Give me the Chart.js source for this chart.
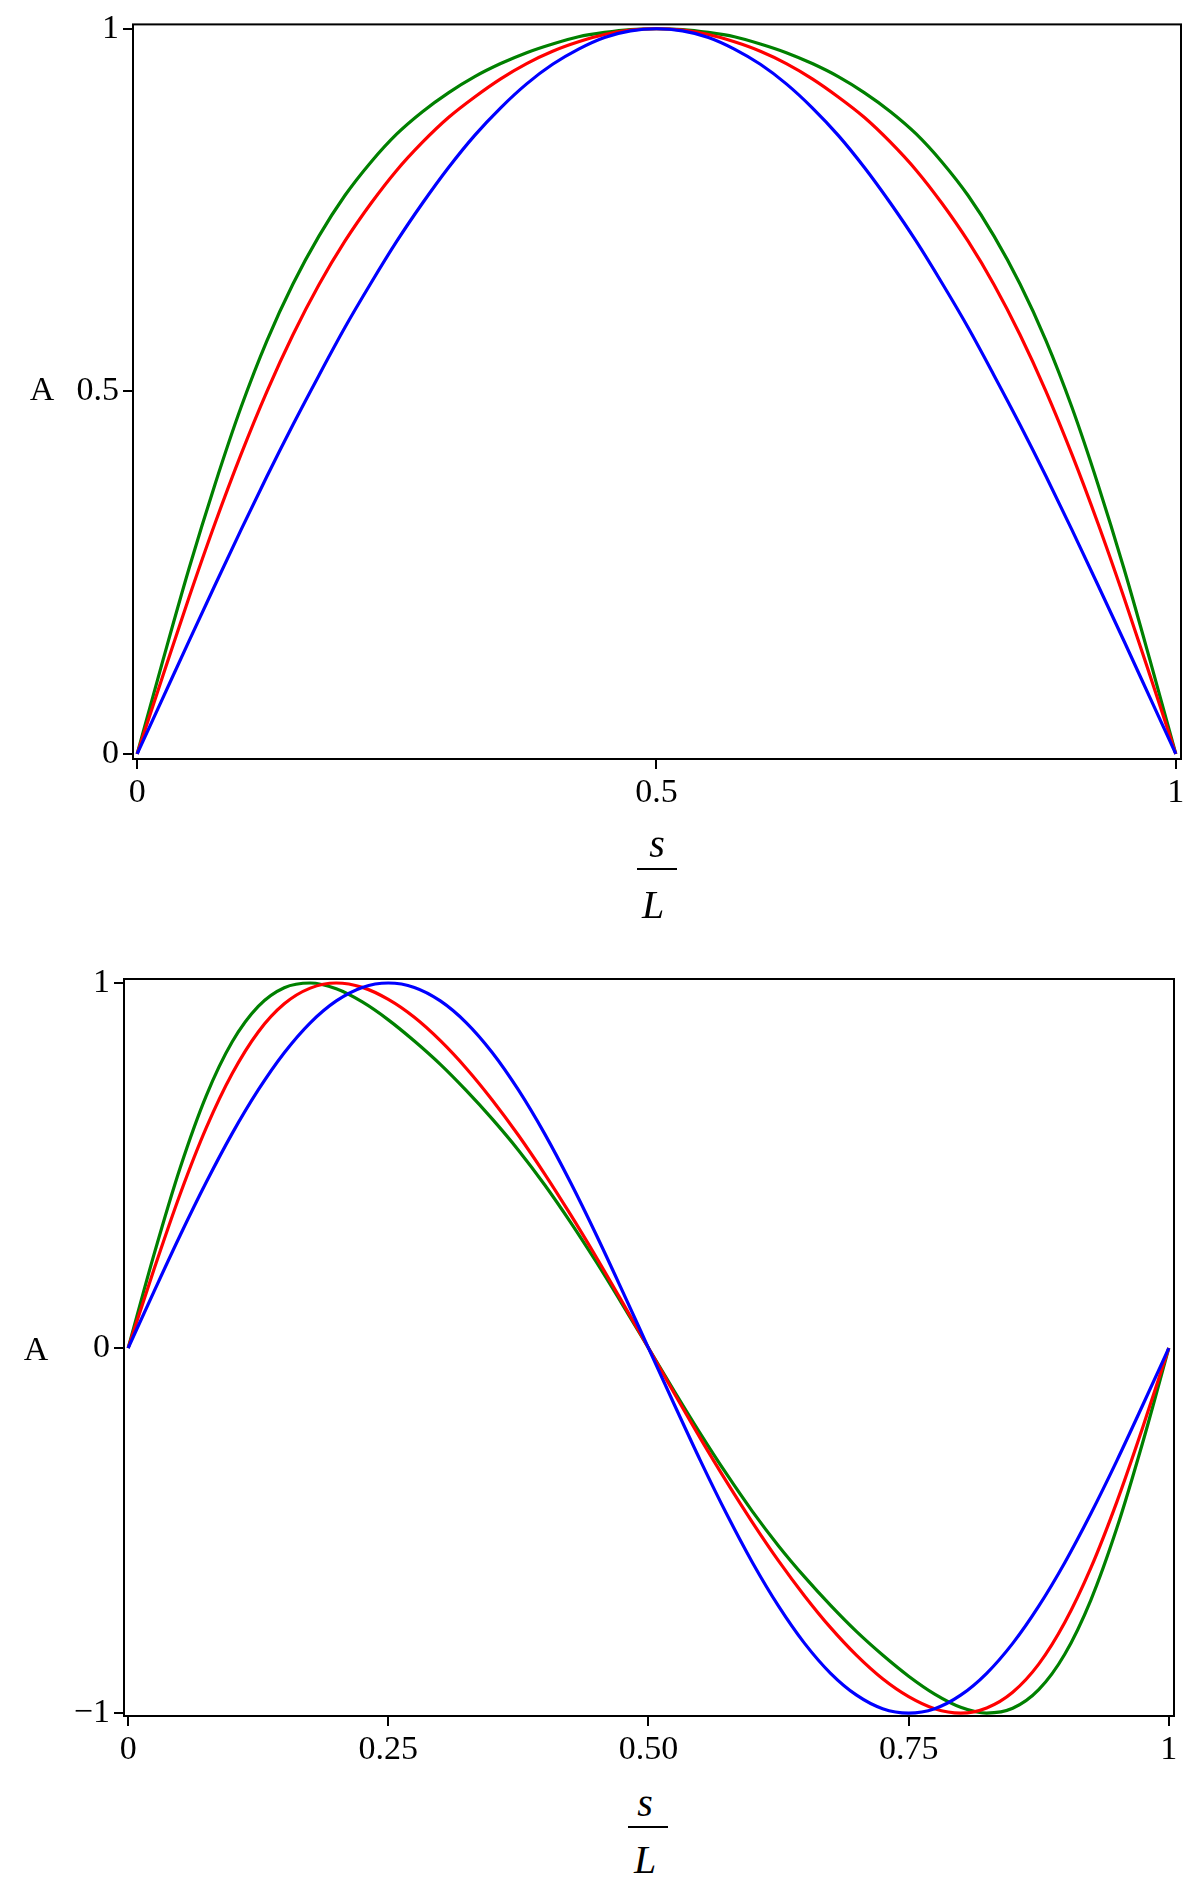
<!DOCTYPE html>
<html>
<head>
<meta charset="utf-8">
<script src="https://cdn.jsdelivr.net/npm/chart.js@4.4.0/dist/chart.umd.min.js"></script>
<style>
  body { margin: 0; background: #fff; width: 1200px; height: 1883px; position: relative; overflow: hidden; font-family: 'Liberation Serif', serif; }
  canvas { position: absolute; left: 0; }
  .lbl { position: absolute; transform: translate(-50%, -50%); font-size: 34px; line-height: 1; color: #000; white-space: nowrap; }
  .it { font-style: italic; font-size: 40px; }
  .bar { position: absolute; height: 2px; background: #000; }
</style>
</head>
<body>
<canvas id="topChart" width="1200" height="830" style="top:0"></canvas>
<canvas id="bottomChart" width="1200" height="830" style="top:940px"></canvas>

<div class="lbl" style="left:42px; top:389px">A</div>
<div class="lbl it" style="left:657px; top:844px">s</div>
<div class="bar" style="left:637px; top:868px; width:40px"></div>
<div class="lbl it" style="left:653px; top:905px">L</div>

<div class="lbl" style="left:36px; top:1349px">A</div>
<div class="lbl it" style="left:645px; top:1803px">s</div>
<div class="bar" style="left:628px; top:1826px; width:40px"></div>
<div class="lbl it" style="left:645px; top:1860px">L</div>

<script>
// s/L positions
const sL = [0, 0.025, 0.05, 0.075, 0.1, 0.125, 0.15, 0.175, 0.2, 0.225, 0.25, 0.275, 0.3, 0.325, 0.35, 0.375, 0.4, 0.425, 0.45, 0.475, 0.5,
            0.525, 0.55, 0.575, 0.6, 0.625, 0.65, 0.675, 0.7, 0.725, 0.75, 0.775, 0.8, 0.825, 0.85, 0.875, 0.9, 0.925, 0.95, 0.975, 1];

// first mode (top plot)
const topBlue = [0, 0.078, 0.156, 0.233, 0.309, 0.383, 0.454, 0.522, 0.588, 0.649, 0.707, 0.760, 0.809, 0.853, 0.891, 0.924, 0.951, 0.972, 0.988, 0.997, 1,
                 0.997, 0.988, 0.972, 0.951, 0.924, 0.891, 0.853, 0.809, 0.760, 0.707, 0.649, 0.588, 0.522, 0.454, 0.383, 0.309, 0.233, 0.156, 0.078, 0];
const topRed = [0, 0.109, 0.216, 0.318, 0.413, 0.500, 0.578, 0.647, 0.707, 0.759, 0.805, 0.844, 0.878, 0.906, 0.931, 0.952, 0.969, 0.982, 0.992, 0.998, 1,
                0.998, 0.992, 0.982, 0.969, 0.952, 0.931, 0.906, 0.878, 0.844, 0.805, 0.759, 0.707, 0.647, 0.578, 0.500, 0.413, 0.318, 0.216, 0.109, 0];
const topGreen = [0, 0.130, 0.256, 0.372, 0.478, 0.570, 0.648, 0.714, 0.770, 0.816, 0.855, 0.886, 0.912, 0.934, 0.952, 0.967, 0.979, 0.989, 0.995, 0.999, 1,
                  0.999, 0.995, 0.989, 0.979, 0.967, 0.952, 0.934, 0.912, 0.886, 0.855, 0.816, 0.770, 0.714, 0.648, 0.570, 0.478, 0.372, 0.256, 0.130, 0];

// second mode (bottom plot)
const botBlue = [0, 0.156, 0.309, 0.454, 0.588, 0.707, 0.809, 0.891, 0.951, 0.988, 1, 0.988, 0.951, 0.891, 0.809, 0.707, 0.588, 0.454, 0.309, 0.156, 0,
                 -0.156, -0.309, -0.454, -0.588, -0.707, -0.809, -0.891, -0.951, -0.988, -1, -0.988, -0.951, -0.891, -0.809, -0.707, -0.588, -0.454, -0.309, -0.156, 0];
const botRed = [0, 0.217, 0.422, 0.603, 0.752, 0.866, 0.943, 0.986, 1, 0.988, 0.955, 0.906, 0.842, 0.766, 0.679, 0.583, 0.478, 0.366, 0.248, 0.125, 0,
                -0.125, -0.248, -0.366, -0.478, -0.583, -0.679, -0.766, -0.842, -0.906, -0.955, -0.988, -1, -0.986, -0.943, -0.866, -0.752, -0.603, -0.422, -0.217, 0];
const botGreen = [0, 0.258, 0.494, 0.691, 0.839, 0.936, 0.987, 1, 0.984, 0.948, 0.899, 0.841, 0.777, 0.705, 0.627, 0.542, 0.448, 0.345, 0.235, 0.119, 0,
                  -0.119, -0.235, -0.345, -0.448, -0.542, -0.627, -0.705, -0.777, -0.841, -0.899, -0.948, -0.984, -1, -0.987, -0.936, -0.839, -0.691, -0.494, -0.258, 0];

// tick values and labels
const topXTicks = [0, 0.5, 1];
const topXLabels = ['0', '0.5', '1'];
const topYTicks = [0, 0.5, 1];
const topYLabels = ['0', '0.5', '1'];
const botXTicks = [0, 0.25, 0.5, 0.75, 1];
const botXLabels = ['0', '0.25', '0.50', '0.75', '1'];
const botYTicks = [-1, 0, 1];
const botYLabels = ['\u22121', '0', '1'];

const frameBox = {
    id: 'frameBox',
    afterDraw(chart) {
        const a = chart.chartArea;
        const ctx = chart.ctx;
        ctx.save();
        ctx.strokeStyle = '#000';
        ctx.lineWidth = 2;
        ctx.strokeRect(a.left, a.top, a.right - a.left, a.bottom - a.top);
        ctx.restore();
    }
};

function series(ys, color) {
    return {
        data: sL.map((x, i) => ({ x: x, y: ys[i] })),
        borderColor: color,
        borderWidth: 3.2,
        pointRadius: 0,
        fill: false,
        cubicInterpolationMode: 'monotone'
    };
}

function axis(ticks, labels, min, max, size, horizontal) {
    return {
        type: 'linear',
        min: min,
        max: max,
        afterBuildTicks: s => { s.ticks = ticks.map(v => ({ value: v })); },
        afterFit: s => { if (horizontal) s.height = size; else s.width = size; },
        ticks: {
            autoSkip: false,
            maxRotation: 0,
            padding: 4,
            color: '#000',
            font: { family: "'Liberation Serif', serif", size: 34 },
            callback: (v, i) => labels[i]
        },
        grid: { display: true, drawOnChartArea: false, drawTicks: true, tickLength: 10, color: '#000', lineWidth: 2 },
        border: { display: false }
    };
}

function makeChart(id, ys, xt, xl, yt, yl, xr, yr, yAxisWidth, xAxisHeight, pad) {
    new Chart(document.getElementById(id), {
        type: 'line',
        data: { datasets: [series(ys[0], '#0000ff'), series(ys[1], '#ff0000'), series(ys[2], '#008000')] },
        options: {
            responsive: false,
            animation: false,
            layout: { padding: pad },
            plugins: { legend: { display: false }, tooltip: { enabled: false } },
            scales: {
                x: axis(xt, xl, xr[0], xr[1], xAxisHeight, true),
                y: axis(yt, yl, yr[0], yr[1], yAxisWidth, false)
            }
        },
        plugins: [frameBox]
    });
}

makeChart('topChart', [topBlue, topRed, topGreen], topXTicks, topXLabels, topYTicks, topYLabels,
    [-0.004, 1.005], [-0.007, 1.006], 133, 71, { left: 0, top: 20, right: 19, bottom: 0 });
makeChart('bottomChart', [botBlue, botRed, botGreen], botXTicks, botXLabels, botYTicks, botYLabels,
    [-0.004, 1.005], [-1.008, 1.011], 124, 54, { left: 0, top: 39, right: 26, bottom: 0 });
</script>
</body>
</html>
